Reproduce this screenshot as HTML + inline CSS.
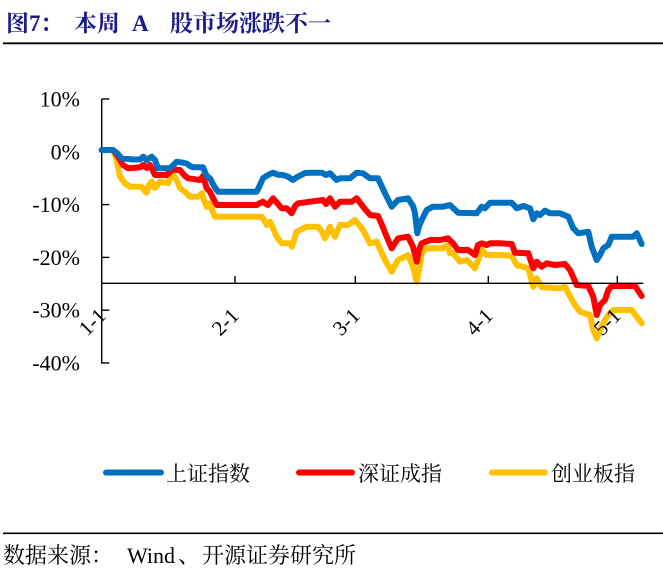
<!DOCTYPE html>
<html>
<head>
<meta charset="utf-8">
<style>
html,body{margin:0;padding:0;background:#fff;}
body{width:663px;height:570px;overflow:hidden;}
svg{display:block;}
</style>
</head>
<body>
<svg width="663" height="570" viewBox="0 0 663 570" xmlns="http://www.w3.org/2000/svg">
<!-- Title -->
<g font-family="'Liberation Serif','Noto Serif CJK SC',serif" font-weight="bold" font-size="23" fill="#1a1a8a">
<text x="6" y="31">图</text>
<text x="29" y="31">7</text>
<text x="40" y="31">：</text>
<text x="74" y="31">本周</text>
<text x="132" y="31">A</text>
<text x="170" y="31">股市场涨跌不一</text>
</g>
<line x1="3" y1="43.3" x2="663" y2="43.3" stroke="#000" stroke-width="1.8"/>

<!-- Y axis -->
<g stroke="#000" stroke-width="1.4" fill="none">
<line x1="101.7" y1="99" x2="101.7" y2="363.5"/>
<line x1="101.7" y1="99" x2="109.3" y2="99"/>
<line x1="101.7" y1="151.8" x2="109.3" y2="151.8"/>
<line x1="101.7" y1="204.6" x2="109.3" y2="204.6"/>
<line x1="101.7" y1="257.4" x2="109.3" y2="257.4"/>
<line x1="101.7" y1="310.2" x2="109.3" y2="310.2"/>
<line x1="101.7" y1="363" x2="109.3" y2="363"/>
</g>
<g font-family="'Liberation Serif',serif" font-size="22" fill="#000" text-anchor="end">
<text x="80" y="106.5">10%</text>
<text x="80" y="159.3">0%</text>
<text x="80" y="212.1">-10%</text>
<text x="80" y="264.9">-20%</text>
<text x="80" y="317.7">-30%</text>
<text x="80" y="370.5">-40%</text>
</g>

<!-- Series -->
<g fill="none" stroke-width="6" stroke-linejoin="round" stroke-linecap="round">
<polyline stroke="#ffc000" points="101.7,150 113,150 116.7,160 120,176.7 125,183.3 130,186.7 141.7,186.7 144,190 146.7,192.7 149,185 151.7,181.7 155,188 160,181.7 168,183.3 170,178 173.3,175 176.7,180 180,188.3 185,191.7 190,196.7 198,196.7 201.7,193.3 204,200 206.7,206.7 210,203.3 212,210 215,216.7 261.7,216.7 264,220 266.7,225 270,221.7 273,228 276.7,236.7 281.7,243.3 290,243.3 292,246.7 296.7,231.7 306.7,226.7 318,226.7 322,232 325,238.3 330,226.7 335,236.7 340,225 348,225 355,220 363,230 370,243.3 376.7,241.7 385,260 391.7,271.7 398,260 408,255 413,266.7 416.7,281.7 419,270 421.7,253.3 426.7,248.3 443,248.3 448,245 450,253.3 453,253.3 460,261.7 467,260 475,268.3 481.7,250 486.7,255 500,255 511.7,255.7 516.7,265 528.3,268.3 533.3,286.7 536.7,278.3 541.7,287.3 560,288.3 565,286.7 568.3,293.3 575,305 580,311.7 590,315 593.3,330 596.7,338.3 600,330 605,320 608.3,315 613.3,310 631.7,310 641.7,323.3"/>
<polyline stroke="#ff0000" points="101.7,150 113,150 117,155 123,165 128,168.3 135,167.7 140,167.3 143.3,165 146.7,168 150,165 155,175 166.7,175 170,172 173,168.3 176.7,170 180,170 184,175 188,178.3 200,180 203,176 206.7,188.3 210,191.7 214,200 216.7,205 256.7,205 260,203 263,201.7 266,204 268,205 273,198.3 278,204 281.7,208.3 286.7,208.3 291.7,213.3 295,206 298,203.3 310,201.7 323,200 326,204 330,198.3 335,206.7 340,201.7 351.7,201.7 356.7,198.3 363,206.7 370,215 378,216 382,225 386.7,236.7 391.7,248.3 398,238.3 408,236.7 413,246.7 416.7,261.7 419,250 421.7,243.3 430,240 440,240 448,238.3 453,243.3 458,250 468,250 475,255 478,245 481.7,243.3 486.7,245 490,243.3 500,243.3 511.7,244 515,252.7 528.3,253.3 533.3,268.3 536.7,261.7 541.7,266.7 546.7,263.3 555,265 565,264 570,270 576.7,285 588.3,286 593.3,296.7 596.7,315 600,305 605,300 608.3,290 611.7,286 635,286 641.7,296"/>
<polyline stroke="#0070c0" points="101.7,150 113,150 117,153 121.7,158.3 133,159.5 140,159.5 143.3,156.7 146.7,160 151.7,156.7 155,160 158,168.3 170,168.3 176.7,161.7 183,162.7 186.7,163.5 190,166 193,167.3 203,167.3 206.7,176 210,178.3 214,186 218,191.7 256.7,191.7 260,185 263,178.3 268,175 273,172.7 278,174.7 283,175 288,176.7 293,180 297,177 300,175.7 305,173 310,172.7 322,172.7 326,175 330,173.3 336.7,180 340,178.3 350,178.3 356.7,172.7 363,173.3 370,178.3 378,178.3 385,193.3 391.7,206.7 398,200 408,198.3 413,206 415,213 417.3,233.3 419,226 421.7,220 426.7,210 433,206.7 443,206.7 450,205 458,212.7 476.7,213.3 481.7,206.7 485,208.3 490,202.7 511.7,202.7 516.7,208.3 523.3,206 530,208.3 533.3,219.3 536.7,213.3 540,215 545,210.7 550,213.3 560,213.3 568.3,216.7 573.3,228.3 578.3,233.3 588.3,231.7 591.7,246.7 596.7,260 600,255 603.3,248.3 608.3,245 611.7,236.7 633.3,236.7 636.7,233.3 641.7,244"/>
</g>

<!-- X axis -->
<g stroke="#000" stroke-width="1.4" fill="none">
<line x1="101.7" y1="283.3" x2="643.3" y2="283.3"/>
<line x1="235" y1="276" x2="235" y2="283.3"/>
<line x1="355.3" y1="276" x2="355.3" y2="283.3"/>
<line x1="488.3" y1="276" x2="488.3" y2="283.3"/>
<line x1="617.3" y1="276" x2="617.3" y2="283.3"/>
</g>
<g font-family="'Liberation Serif',serif" font-size="21" fill="#000" text-anchor="end">
<text transform="translate(107,317) rotate(-45)">1-1</text>
<text transform="translate(240,317) rotate(-45)">2-1</text>
<text transform="translate(361,317) rotate(-45)">3-1</text>
<text transform="translate(494,317) rotate(-45)">4-1</text>
<text transform="translate(622,317) rotate(-45)">5-1</text>
</g>

<!-- Legend -->
<g stroke-width="6" stroke-linecap="round">
<line x1="106" y1="472.5" x2="161" y2="472.5" stroke="#0070c0"/>
<line x1="299" y1="472.5" x2="352" y2="472.5" stroke="#ff0000"/>
<line x1="492" y1="472.5" x2="545" y2="472.5" stroke="#ffc000"/>
</g>
<g font-family="'Liberation Serif','Noto Serif CJK SC',serif" font-size="21" fill="#000">
<text x="166" y="481">上证指数</text>
<text x="358" y="481">深证成指</text>
<text x="551" y="481">创业板指</text>
</g>

<!-- Footer -->
<line x1="3" y1="533.3" x2="663" y2="533.3" stroke="#000" stroke-width="1.6"/>
<g font-family="'Liberation Serif','Noto Serif CJK SC',serif" font-size="22" fill="#000">
<text x="3" y="563">数据来源：</text>
<text x="127" y="563">Wind</text>
<text x="178" y="563">、</text>
<text x="202" y="563">开源证券研究所</text>
</g>
</svg>
</body>
</html>
